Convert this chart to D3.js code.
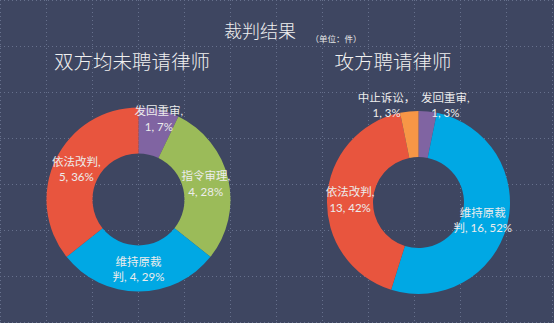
<!DOCTYPE html>
<html><head><meta charset="utf-8">
<script src="https://cdn.jsdelivr.net/npm/d3@7"></script>
<style>html,body{margin:0;padding:0;background:#3e4661;}svg{display:block;}</style>
</head><body>
<svg id="c" width="554" height="323"></svg>
<script>
const title = "裁判结果";
const unitNote = "（单位：件）";
const groupTitles = ["双方均未聘请律师", "攻方聘请律师"];
const cats1 = ["发回重审", "指令审理", "维持原裁判", "依法改判"];
const vals1 = [1, 4, 4, 5];
const pcts1 = ["7%", "28%", "29%", "36%"];
const cats2 = ["发回重审", "维持原裁判", "依法改判", "中止诉讼"];
const vals2 = [1, 16, 13, 1];
const pcts2 = ["3%", "52%", "42%", "3%"];
const colorMap = {"发回重审":"#8064a2","指令审理":"#9bbb59","维持原裁判":"#00a8e4","依法改判":"#e8553e","中止诉讼":"#f79646"};

const W = 554, H = 323;
const svg = d3.select("#c");
svg.append("rect").attr("width", W).attr("height", H).attr("fill", "#3e4661");

// grid
const gx = d3.scaleLinear().domain([0, 12]).range([0, 552]);
const gy = d3.scaleLinear().domain([0, 7]).range([0, 322]);
const grid = svg.append("g").attr("stroke", "#66708c").attr("stroke-width", 1).attr("stroke-dasharray", "1,3");
d3.range(0, 13).forEach(i => grid.append("line").attr("x1", gx(i)+0.5).attr("x2", gx(i)+0.5).attr("y1", 0).attr("y2", H));
d3.range(0, 8).forEach(i => grid.append("line").attr("y1", gy(i)+0.5).attr("y2", gy(i)+0.5).attr("x1", 0).attr("x2", W));

const FONT = "Lato, 'Noto Sans CJK SC', sans-serif";
svg.append("text").attr("x", 260).attr("y", 38).attr("text-anchor", "middle")
  .attr("fill", "#f0f0f0").attr("font-family", FONT).attr("font-weight", 300).attr("font-size", 18).text(title);
svg.append("text").attr("x", 336).attr("y", 42).attr("text-anchor", "middle")
  .attr("fill", "#e6e6e6").attr("font-family", FONT).attr("font-size", 8.5).text(unitNote);

const titleX = [132, 393];
groupTitles.forEach((t, i) => svg.append("text").attr("x", titleX[i]).attr("y", 69).attr("text-anchor", "middle")
  .attr("fill", "#f0f0f0").attr("font-family", FONT).attr("font-weight", 300).attr("font-size", 19.5).text(t));

function donut(cx, cy, R, r, cats, vals, pcts, labelLines, nudges) {
  const g = svg.append("g").attr("transform", `translate(${cx},${cy})`);
  const pie = d3.pie().sort(null).value(d => d.v);
  const data = pie(cats.map((c, i) => ({c, v: vals[i], p: pcts[i], i})));
  const arc = d3.arc().innerRadius(r).outerRadius(R);
  g.selectAll("path").data(data).join("path").attr("d", arc).attr("fill", d => colorMap[d.data.c]);
  const la = d3.arc().innerRadius((R + r) / 2).outerRadius((R + r) / 2);
  data.forEach((d, i) => {
    const [x0, y0] = la.centroid(d);
    const nd = nudges[i] || [0, 0];
    const x = x0 + nd[0], y = y0 + nd[1];
    const lines = labelLines(d.data);
    const t = g.append("text").attr("text-anchor", "middle").attr("fill", "#ececec")
      .attr("font-family", FONT).attr("font-size", 11.5);
    lines.forEach((ln, k) => t.append("tspan").attr("x", x)
      .attr("y", y + (k - (lines.length - 1) / 2) * 15.5 + 4).text(ln));
  });
}

function lines(d) {
  if (d.c === "维持原裁判") return ["维持原裁", `判, ${d.v}, ${d.p}`];
  if (d.c === "中止诉讼") return ["中止诉讼，", `${d.v}, ${d.p}`];
  return [`${d.c},`, `${d.v}, ${d.p}`];
}

donut(138.5, 199.5, 92, 46, cats1, vals1, pcts1, lines, [[5, -13], [0, 0], [0, 1], [0, 0]]);
donut(418.5, 202.5, 91.5, 45.5, cats2, vals2, pcts2, lines, [[20, -29], [-2, 1], [0, 1], [-25, -29]]);
</script>
</body></html>
